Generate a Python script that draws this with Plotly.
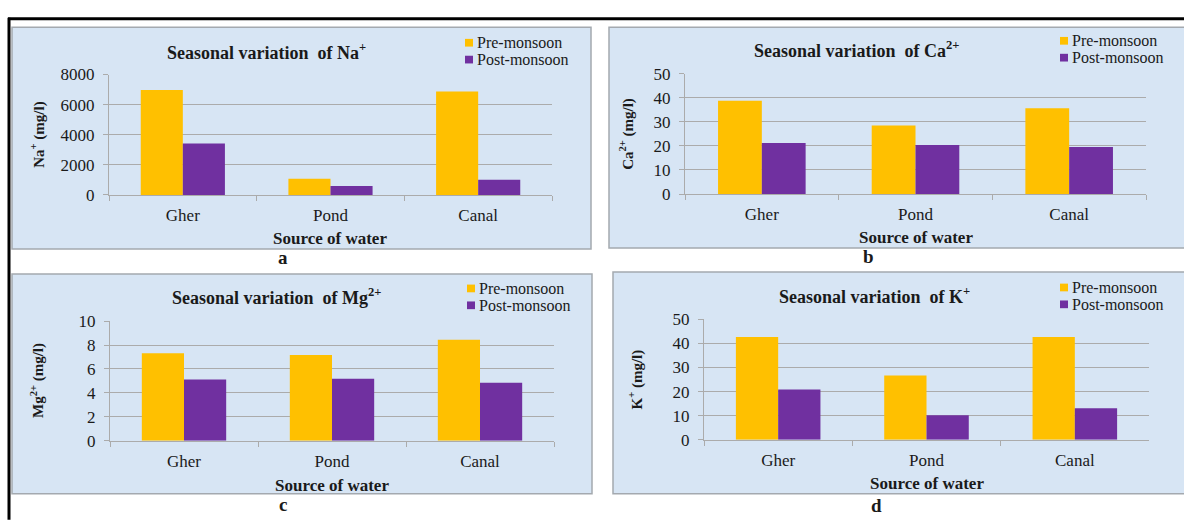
import plotly.graph_objects as go

# ---- data -------------------------------------------------------------
sources = ["Gher", "Pond", "Canal"]
series_names = ["Pre-monsoon", "Post-monsoon"]

na_pre = [6970, 1080, 6880]
na_post = [3420, 600, 1010]

ca_pre = [38.7, 28.4, 35.6]
ca_post = [21.2, 20.3, 19.5]

mg_pre = [7.31, 7.18, 8.44]
mg_post = [5.13, 5.19, 4.84]

k_pre = [42.6, 26.7, 42.6]
k_post = [20.9, 10.2, 13.1]

# ---- styling ----------------------------------------------------------
W, H = 1184, 522
PRE_COLOR = "#FFC000"
POST_COLOR = "#7030A0"
PANEL_BG = "#D7E5F4"
PANEL_LINE = "#A4A9AF"
GRID = "#ABABAB"
SERIF = "Liberation Serif, Times New Roman, serif"
TXT = "#1a1a1a"
ROW = 17.5  # legend row pitch in px


def px(x):
    return x / W


def py(y):
    return 1 - y / H


# panel boxes (left, top, right, bottom) and plot areas in pixels
panels = [
    dict(box=(12, 19, 591, 249), plot=(109, 68, 552, 193),
         title="Seasonal variation  of Na<sup>+</sup>", ytitle="Na<sup>+</sup> (mg/l)",
         pre=na_pre, post=na_post, yrange=[0, 8000], dtick=2000,
         title_xy=(266, 44), legend_xy=(465, 35), ytitle_x=38, xtitle_y=238,
         letter="a", letter_xy=(283, 258)),
    dict(box=(609, 19, 1190, 248), plot=(685, 67, 1146, 192),
         title="Seasonal variation  of Ca<sup>2+</sup>", ytitle="Ca<sup>2+</sup> (mg/l)",
         pre=ca_pre, post=ca_post, yrange=[0, 50], dtick=10,
         title_xy=(857, 42), legend_xy=(1060, 33), ytitle_x=627, xtitle_y=237,
         letter="b", letter_xy=(868, 257)),
    dict(box=(12, 275, 592, 503), plot=(110, 324, 554, 448),
         title="Seasonal variation  of Mg<sup>2+</sup>", ytitle="Mg<sup>2+</sup> (mg/l)",
         pre=mg_pre, post=mg_post, yrange=[0, 10], dtick=2,
         title_xy=(276, 298), legend_xy=(467, 290), ytitle_x=38, xtitle_y=494,
         letter="c", letter_xy=(283, 514)),
    dict(box=(613, 273, 1190, 503), plot=(704, 322, 1149, 447),
         title="Seasonal variation  of K<sup>+</sup>", ytitle="K<sup>+</sup> (mg/l)",
         pre=k_pre, post=k_post, yrange=[0, 50], dtick=10,
         title_xy=(874, 297), legend_xy=(1060, 289), ytitle_x=636, xtitle_y=492,
         letter="d", letter_xy=(876, 515)),
]

fig = go.Figure()
shapes = []
annotations = []
layout_axes = {}

for i, p in enumerate(panels, start=1):
    sfx = "" if i == 1 else str(i)
    xa, ya = "x" + sfx, "y" + sfx

    for name, vals, col in zip(series_names, (p["pre"], p["post"]), (PRE_COLOR, POST_COLOR)):
        fig.add_trace(go.Bar(x=sources, y=vals, name=name, showlegend=False,
                             marker=dict(color=col, line=dict(width=0)),
                             xaxis=xa, yaxis=ya))

    l, t, r, b = p["plot"]
    layout_axes["xaxis" + sfx] = dict(
        domain=[px(l), px(r)], anchor=ya, type="category",
        showline=True, linecolor=GRID, linewidth=1,
        ticks="outside", tickson="boundaries", ticklen=5, tickcolor=GRID,
        ticklabelstandoff=5,
        showgrid=False, tickfont=dict(family=SERIF, size=17, color=TXT),
        fixedrange=True,
    )
    layout_axes["yaxis" + sfx] = dict(
        domain=[py(b), py(t)], anchor=xa, range=p["yrange"], dtick=p["dtick"],
        showline=True, linecolor=GRID, linewidth=1,
        ticks="outside", ticklen=5, tickcolor=GRID,
        ticklabelstandoff=5,
        showgrid=True, gridcolor=GRID, gridwidth=1, zeroline=False,
        tickfont=dict(family=SERIF, size=17, color=TXT),
        fixedrange=True,
    )

    # panel background box
    bl, bt, br, bb = p["box"]
    shapes.append(dict(type="rect", xref="paper", yref="paper",
                       x0=px(bl), x1=px(br), y0=py(bb), y1=py(bt),
                       fillcolor=PANEL_BG, line=dict(color=PANEL_LINE, width=1.5),
                       layer="below"))

    # legend: colour square + series name per row
    lx, ly = p["legend_xy"]
    for k, (name, col) in enumerate(zip(series_names, (PRE_COLOR, POST_COLOR))):
        rowy = ly + ROW * k
        shapes.append(dict(type="rect", xref="paper", yref="paper",
                           x0=px(lx), x1=px(lx + 8), y0=py(rowy + 4), y1=py(rowy - 4),
                           fillcolor=col, line=dict(width=0)))
        annotations.append(dict(text=name, x=px(lx + 11), y=py(rowy),
                                xref="paper", yref="paper", showarrow=False,
                                xanchor="left", yanchor="middle", borderpad=0,
                                font=dict(family=SERIF, size=16, color=TXT)))

    annotations += [
        dict(text="<b>" + p["title"] + "</b>", x=px(p["title_xy"][0]), y=py(p["title_xy"][1]),
             xref="paper", yref="paper", showarrow=False, xanchor="center", yanchor="middle",
             font=dict(family=SERIF, size=18, color=TXT)),
        dict(text="<b>" + p["ytitle"] + "</b>", x=px(p["ytitle_x"]), y=py((t + b) / 2),
             xref="paper", yref="paper", showarrow=False, textangle=-90,
             xanchor="center", yanchor="middle",
             font=dict(family=SERIF, size=15, color=TXT)),
        dict(text="<b>Source of water</b>", x=px((l + r) / 2), y=py(p["xtitle_y"]),
             xref="paper", yref="paper", showarrow=False, xanchor="center", yanchor="middle",
             font=dict(family=SERIF, size=17, color=TXT)),
        dict(text="<b>" + p["letter"] + "</b>", x=px(p["letter_xy"][0]), y=py(p["letter_xy"][1]),
             xref="paper", yref="paper", showarrow=False, xanchor="center", yanchor="middle",
             font=dict(family=SERIF, size=19, color=TXT)),
    ]

# outer frame lines (top and left)
shapes.append(dict(type="line", xref="paper", yref="paper",
                   x0=px(8), x1=px(1190), y0=py(10), y1=py(10),
                   line=dict(color="black", width=3)))
shapes.append(dict(type="line", xref="paper", yref="paper",
                   x0=px(9), x1=px(9), y0=py(9), y1=py(530),
                   line=dict(color="black", width=3)))

fig.update_layout(
    width=W, height=H,
    margin=dict(l=0, r=0, t=0, b=0),
    paper_bgcolor="white", plot_bgcolor="white",
    font=dict(family=SERIF, color=TXT),
    barmode="group", bargap=0.43, bargroupgap=0,
    showlegend=False,
    shapes=shapes, annotations=annotations,
    **layout_axes,
)

# the figure occupies the whole page, flush with its top-left corner
fig.write_html("out.html", config=dict(displayModeBar=False),
               post_script="document.body.style.margin='0';")
